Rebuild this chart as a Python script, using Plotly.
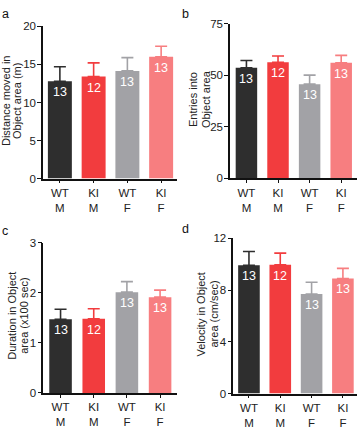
import plotly.graph_objects as go

W, H = 359, 430

groups = ["WT<br>M", "KI<br>M", "WT<br>F", "KI<br>F"]
colors = ["#2e2e2e", "#f23c3e", "#a2a2a6", "#f77e80"]
counts = ["13", "12", "13", "13"]

dist_mean = [12.8, 13.4, 14.15, 16.0]
dist_err = [14.7, 15.2, 15.9, 17.4]
entries_mean = [53.7, 56.4, 45.7, 56.1]
entries_err = [57.2, 59.4, 50.1, 59.7]
dur_mean = [1.47, 1.48, 2.01, 1.91]
dur_err = [1.67, 1.68, 2.22, 2.05]
vel_mean = [9.92, 9.95, 7.70, 8.90]
vel_err = [10.98, 10.86, 8.60, 9.68]

panels = [
    dict(letter="a", mean=dist_mean, err=dist_err, title=["Distance moved in", "Object area (m)"],
         ymax=20, dtick=5, xpx=(43, 177), ypx=(21, 177.5), xr=(-0.5, 3.47), bw=0.71,
         titlex=(6, 17), letterpos=(5, 8)),
    dict(letter="b", mean=entries_mean, err=entries_err, title=["Entries into", "Object area"],
         ymax=75, dtick=25, xpx=(230, 357), ypx=(18.5, 177), xr=(-0.52, 3.5), bw=0.68,
         titlex=(192.5, 205.5), letterpos=(185, 8)),
    dict(letter="c", mean=dur_mean, err=dur_err, title=["Duration in Object", "area (x100 sec)"],
         ymax=3, dtick=1, xpx=(43.3, 177), ypx=(243.3, 398), xr=(-0.52, 3.51), bw=0.68,
         titlex=(12.5, 24.5), letterpos=(5, 231)),
    dict(letter="d", mean=vel_mean, err=vel_err, title=["Velocity in Object", "area (cm/sec)"],
         ymax=12, dtick=4, xpx=(233.3, 357), ypx=(239, 398.7), xr=(-0.5, 3.45), bw=0.69,
         titlex=(201, 214), letterpos=(185, 229)),
]

FONT = "Liberation Sans, Arial, Helvetica, sans-serif"
fig = go.Figure()
annotations = []
layout = {}

for i, p in enumerate(panels):
    n = "" if i == 0 else str(i + 1)
    xa, ya = "x" + n, "y" + n
    for j in range(4):
        fig.add_trace(go.Bar(
            x=[j], y=[p["mean"][j]], width=p["bw"], marker=dict(color=colors[j], line=dict(width=0)),
            error_y=dict(type="data", symmetric=False, array=[p["err"][j] - p["mean"][j]],
                         arrayminus=[0], color=colors[j], thickness=1.6, width=6),
            xaxis=xa, yaxis=ya, showlegend=False, hoverinfo="skip"))
        annotations.append(dict(x=j, y=p["mean"][j], xref=xa, yref=ya, text=counts[j],
                                showarrow=False, yanchor="top", yshift=-2,
                                font=dict(color="white", size=12.5, family=FONT)))
    x0, x1 = p["xpx"]
    yt, yb = p["ypx"]
    layout["xaxis" + n] = dict(domain=[x0 / W, x1 / W], range=list(p["xr"]), anchor=ya,
                               tickmode="array", tickvals=[0, 1, 2, 3], ticktext=groups,
                               showline=True, linecolor="#111", linewidth=1.5, ticks="outside",
                               ticklen=3, tickwidth=1, tickcolor="#111", showgrid=False,
                               zeroline=False, tickfont=dict(size=11.5, family=FONT, color="#222"),
                               fixedrange=True)
    layout["yaxis" + n] = dict(domain=[(H - yb) / H, (H - yt) / H], range=[0, p["ymax"]],
                               dtick=p["dtick"], anchor=xa, showline=True, linecolor="#111",
                               linewidth=1.5, ticks="outside", ticklen=4, tickwidth=1.2,
                               tickcolor="#111", showgrid=False, zeroline=False,
                               ticklabelstandoff=-1,
                               tickfont=dict(size=11.5, family=FONT, color="#222"), fixedrange=True)
    for k, line in enumerate(p["title"]):
        annotations.append(dict(x=p["titlex"][k] / W, y=(H - (yt + yb) / 2 + 1.5) / H,
                                xref="paper", yref="paper",
                                text=line, textangle=-90, showarrow=False, xanchor="center",
                                yanchor="middle", font=dict(size=11, family=FONT, color="#222")))
    lx, ly = p["letterpos"]
    annotations.append(dict(x=lx / W, y=(H - ly) / H, xref="paper", yref="paper", text=p["letter"],
                            showarrow=False, xanchor="center", yanchor="middle",
                            font=dict(size=12.5, family=FONT, color="#111")))

fig.update_layout(width=W, height=H, margin=dict(l=0, r=0, t=0, b=0), paper_bgcolor="white",
                  plot_bgcolor="white", barmode="overlay", annotations=annotations, **layout)
fig.write_html("out.html")
